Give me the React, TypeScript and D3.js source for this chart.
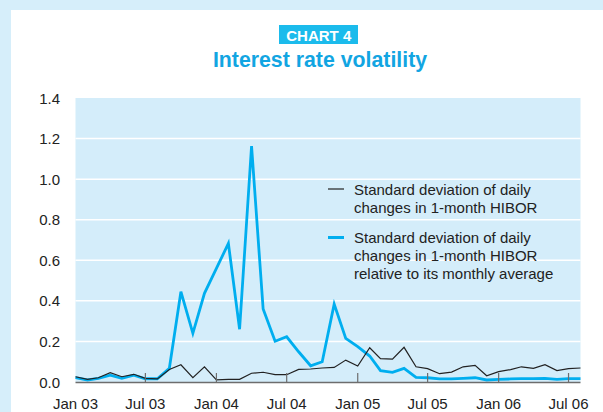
import React from "react";
import * as d3 from "d3";

const startYear = 2003;
const monthCount = 44; // Jan 03 .. Aug 06

const stdDevDaily = [
  0.026, 0.013, 0.021, 0.046, 0.026, 0.038, 0.018, 0.015, 0.062, 0.085,
  0.021, 0.075, 0.01, 0.013, 0.013, 0.043, 0.048, 0.036, 0.036, 0.062,
  0.064, 0.069, 0.072, 0.108, 0.079, 0.169, 0.115, 0.113, 0.171, 0.075,
  0.066, 0.041, 0.049, 0.075, 0.082, 0.031, 0.051, 0.061, 0.075, 0.067,
  0.085, 0.056, 0.066, 0.069,
];

const stdDevRelative = [
  0.021, 0.01, 0.018, 0.034, 0.018, 0.034, 0.016, 0.016, 0.067, 0.445,
  0.24, 0.437, 0.56, 0.683, 0.26, 1.163, 0.36, 0.201, 0.223, 0.149,
  0.08, 0.1, 0.384, 0.215, 0.174, 0.128, 0.056, 0.048, 0.067, 0.023,
  0.021, 0.015, 0.015, 0.018, 0.021, 0.01, 0.013, 0.015, 0.017, 0.017,
  0.018, 0.013, 0.017, 0.017,
];

const yTicks = [0, 0.2, 0.4, 0.6, 0.8, 1.0, 1.2, 1.4];
const xTickLabels = ["Jan 03", "Jul 03", "Jan 04", "Jul 04", "Jan 05", "Jul 05", "Jan 06", "Jul 06"];
const xTickMonths = [0, 6, 12, 18, 24, 30, 36, 42];

const legendBlack = ["Standard deviation of daily", "changes in 1-month HIBOR"];
const legendBlue = ["Standard deviation of daily", "changes in 1-month HIBOR", "relative to its monthly average"];

const W = 603;
const H = 412;
const FRAME = "#d6eefa";
const PLOT_BG = "#d4edfa";
const BLUE = "#00aeef";
const FONT = "'Liberation Sans', Arial, Helvetica, sans-serif";

export default function App() {
  const dates = d3.range(monthCount).map((i) => new Date(startYear, i, 1));
  const x = d3
    .scaleTime()
    .domain([dates[0], dates[dates.length - 1]])
    .range([75.5, 580.5]);
  const y = d3.scaleLinear().domain([0, 1.4]).range([382, 98]);

  const line = d3
    .line<number>()
    .x((_, i) => x(dates[i]))
    .y((d) => y(d));

  const plotLeft = 75.5;
  const plotRight = 580.5;
  const legendLH = 17.8;

  return (
    <svg
      width={W}
      height={H}
      style={{ position: "absolute", left: 0, top: 0, display: "block" }}
      fontFamily={FONT}
    >
      <rect x={0} y={0} width={W} height={H} fill={FRAME} />
      <rect x={11} y={10} width={W - 11} height={H - 10} fill="#ffffff" />

      {/* Title */}
      <rect x={279} y={25} width={79} height={19} fill="#1bbbec" />
      <text x={318.8} y={40.6} textAnchor="middle" fill="#ffffff" fontSize={15} fontWeight="bold">
        CHART 4
      </text>
      <text x={320} y={66.7} textAnchor="middle" fill="#12a5e2" fontSize={21.3} fontWeight="bold">
        Interest rate volatility
      </text>

      {/* Plot background */}
      <rect x={plotLeft} y={y(1.4)} width={plotRight - plotLeft} height={y(0) - y(1.4)} fill={PLOT_BG} />

      {/* Gridlines */}
      {yTicks
        .filter((t) => t > 0 && t < 1.4)
        .map((t) => (
          <line key={t} x1={plotLeft} x2={plotRight} y1={y(t)} y2={y(t)} stroke="#ffffff" strokeWidth={1.5} />
        ))}

      {/* Y tick labels */}
      {yTicks.map((t) => (
        <text key={t} x={60} y={y(t) + 5.5} textAnchor="end" fontSize={15} fill="#222">
          {t.toFixed(1)}
        </text>
      ))}

      {/* Legend */}
      <line x1={328} x2={344} y1={189} y2={189} stroke="#222" strokeWidth={1.2} />
      {legendBlack.map((s, i) => (
        <text key={"b" + i} x={354} y={195 + i * legendLH} fontSize={15} fill="#222">
          {s}
        </text>
      ))}
      <line x1={328} x2={344} y1={237.5} y2={237.5} stroke={BLUE} strokeWidth={3} />
      {legendBlue.map((s, i) => (
        <text key={"l" + i} x={354} y={243.3 + i * legendLH} fontSize={15} fill="#222">
          {s}
        </text>
      ))}

      {/* Lines */}
      <path d={line(stdDevRelative) || ""} fill="none" stroke={BLUE} strokeWidth={2.8} strokeLinejoin="miter" />
      <path d={line(stdDevDaily) || ""} fill="none" stroke="#222" strokeWidth={1.2} />

      {/* Axis */}
      <line x1={plotLeft} x2={plotRight} y1={y(0) + 0.5} y2={y(0) + 0.5} stroke="#6d6d6d" strokeWidth={1.5} />
      {xTickMonths.map((m, i) => {
        const d = new Date(startYear, m, 1);
        const xp = x(d);
        return (
          <g key={m}>
            {m > 0 && (
              <line x1={xp} x2={xp} y1={y(0)} y2={y(0) - 9} stroke="#6d6d6d" strokeWidth={1.2} />
            )}
            <text x={xp} y={409} textAnchor="middle" fontSize={15} fill="#222">
              {xTickLabels[i]}
            </text>
          </g>
        );
      })}
    </svg>
  );
}
